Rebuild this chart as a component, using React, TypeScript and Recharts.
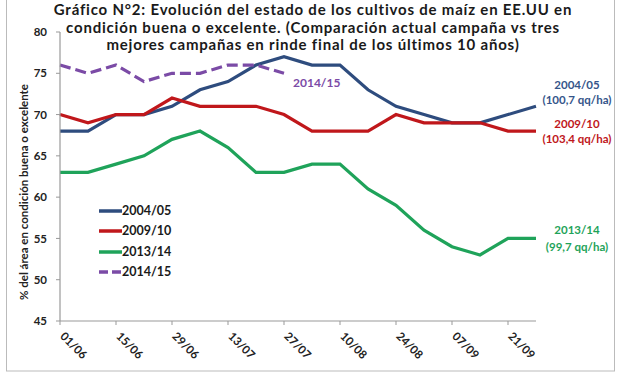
import React from 'react';
import { LineChart, Line, XAxis, YAxis, Legend } from 'recharts';

const dates = ['01/06', '08/06', '15/06', '22/06', '29/06', '06/07', '13/07', '20/07', '27/07', '03/08', '10/08', '17/08', '24/08', '31/08', '07/09', '14/09', '21/09', '28/09'];
const serie0405 = [68, 68, 70, 70, 71, 73, 74, 76, 77, 76, 76, 73, 71, 70, 69, 69, 70, 71];
const serie0910 = [70, 69, 70, 70, 72, 71, 71, 71, 70, 68, 68, 68, 70, 69, 69, 69, 68, 68];
const serie1314 = [63, 63, 64, 65, 67, 68, 66, 63, 63, 64, 64, 61, 59, 56, 54, 53, 55, 55];
const serie1415: (number | null)[] = [76, 75, 76, 74, 75, 75, 76, 76, 75, null, null, null, null, null, null, null, null, null];

const seriesNames = ['2004/05', '2009/10', '2013/14', '2014/15'];
const yieldNotes = ['(100,7 qq/ha)', '(103,4 qq/ha)', '(99,7 qq/ha)', ''];
const yTicks = [45, 50, 55, 60, 65, 70, 75, 80];
const titleLines = [
  'Gráfico N°2: Evolución del estado de los cultivos de maíz en EE.UU en',
  'condición buena o excelente. (Comparación actual campaña vs tres',
  'mejores campañas en rinde final de los últimos 10 años)',
];
const yTitle = '% del área en condición buena o excelente';

const COLORS = ['#2E4C7E', '#C0171B', '#1FA35A', '#7B4BA6'];
const LABEL_COLORS = ['#35558A', '#C0171B', '#1FA35A', '#7B4BA6'];
const FONT = 'Lato, "Open Sans", sans-serif';
const keys = ['s0405', 's0910', 's1314', 's1415'];

const data = dates.map((d, i) => ({
  date: d,
  s0405: serie0405[i],
  s0910: serie0910[i],
  s1314: serie1314[i],
  s1415: serie1415[i],
}));

const lastIndexOf = (arr: (number | null)[]) => {
  let last = 0;
  arr.forEach((v, i) => { if (v !== null && v !== undefined) last = i; });
  return last;
};
const lastIdx = [lastIndexOf(serie0405), lastIndexOf(serie0910), lastIndexOf(serie1314), lastIndexOf(serie1415)];

// label offsets relative to the last point of each series
const labelOffsets = [
  { dx: 41, dy1: -17, dy2: -2, anchor: 'middle' },
  { dx: 41, dy1: -3, dy2: 12, anchor: 'middle' },
  { dx: 41, dy1: -4.5, dy2: 12.5, anchor: 'middle' },
  { dx: 9, dy1: 14, dy2: 0, anchor: 'start' },
];

const makeEndLabel = (s: number) => (props: any) => {
  const { x, y, index } = props;
  if (index !== lastIdx[s] || x == null || y == null) return <g />;
  const o = labelOffsets[s];
  return (
    <text
      textAnchor={o.anchor}
      fill={LABEL_COLORS[s]}
      style={{ fontFamily: FONT, fontWeight: 700, fontSize: s === 3 ? 12 : 11.5 }}
    >
      <tspan x={x + o.dx} y={y + o.dy1}>{seriesNames[s]}</tspan>
      {yieldNotes[s] ? <tspan x={x + o.dx} y={y + o.dy2}>{yieldNotes[s]}</tspan> : null}
    </text>
  );
};

const XTick = (props: any) => {
  const { x, y, payload } = props;
  const bx = x - 0.5;
  const by = y + 10;
  return (
    <text
      x={bx}
      y={by}
      transform={`rotate(45, ${bx}, ${by})`}
      textAnchor="start"
      fill="#222"
      style={{ fontFamily: FONT, fontWeight: 700, fontSize: 11.5 }}
    >
      {payload.value}
    </text>
  );
};

const LegendContent = () => (
  <div style={{ fontFamily: FONT, fontWeight: 700, fontSize: 12.5, color: '#1a1a1a' }}>
    {seriesNames.map((n, i) => (
      <div key={n} style={{ display: 'flex', alignItems: 'center', height: 20.3 }}>
        <svg width={23} height={6} style={{ display: 'block' }}>
          <line
            x1={0}
            y1={3}
            x2={23}
            y2={3}
            stroke={COLORS[i]}
            strokeWidth={3.5}
            strokeDasharray={i === 3 ? '9 4' : undefined}
          />
        </svg>
        <span style={{ lineHeight: '20px' }}>{n}</span>
      </div>
    ))}
  </div>
);

export default function App() {
  return (
    <div style={{ position: 'absolute', left: 0, top: 0, width: 620, height: 375, background: '#fff', overflow: 'hidden' }}>
      <LineChart
        width={620}
        height={375}
        data={data}
        margin={{ top: 32, right: 84, bottom: 0, left: 0 }}
      >
        <XAxis
          dataKey="date"
          interval={1}
          height={54}
          tickSize={4}
          tickLine={{ stroke: '#999' }}
          axisLine={{ stroke: '#999', strokeWidth: 1.2 }}
          tick={<XTick />}
        />
        <YAxis
          domain={[45, 80]}
          ticks={yTicks}
          width={60}
          tickSize={4}
          tickMargin={9}
          tickLine={{ stroke: '#999' }}
          axisLine={{ stroke: '#999', strokeWidth: 1.2 }}
          tick={{ fill: '#222', fontFamily: FONT, fontWeight: 700, fontSize: 11.5 }}
          interval={0}
        />
        <Legend
          layout="vertical"
          align="center"
          verticalAlign="middle"
          content={<LegendContent />}
          wrapperStyle={{ left: 99, top: 201, width: 90, height: 85 }}
        />
        {keys.map((k, i) => (
          <Line
            key={k}
            dataKey={k}
            name={seriesNames[i]}
            stroke={COLORS[i]}
            strokeWidth={3.2}
            strokeDasharray={i === 3 ? '11 5' : undefined}
            dot={false}
            activeDot={false}
            isAnimationActive={false}
            connectNulls={false}
            label={makeEndLabel(i)}
          />
        ))}
      </LineChart>
      <svg width={620} height={375} style={{ position: 'absolute', left: 0, top: 0, pointerEvents: 'none' }}>
        <rect x={6.5} y={-2} width={608} height={373} fill="none" stroke="#bbb" strokeWidth={1} />
        <text textAnchor="middle" fill="#1a1a1a" style={{ fontFamily: FONT, fontWeight: 700, fontSize: 15, letterSpacing: 0.8 }}>
          {titleLines.map((t, i) => (
            <tspan key={i} x={313} y={15 + i * 17.5}>{t}</tspan>
          ))}
        </text>
        <text
          x={28}
          y={192}
          transform="rotate(-90, 28, 192)"
          textAnchor="middle"
          fill="#222"
          style={{ fontFamily: FONT, fontWeight: 700, fontSize: 11.5 }}
        >
          {yTitle}
        </text>
      </svg>
    </div>
  );
}
